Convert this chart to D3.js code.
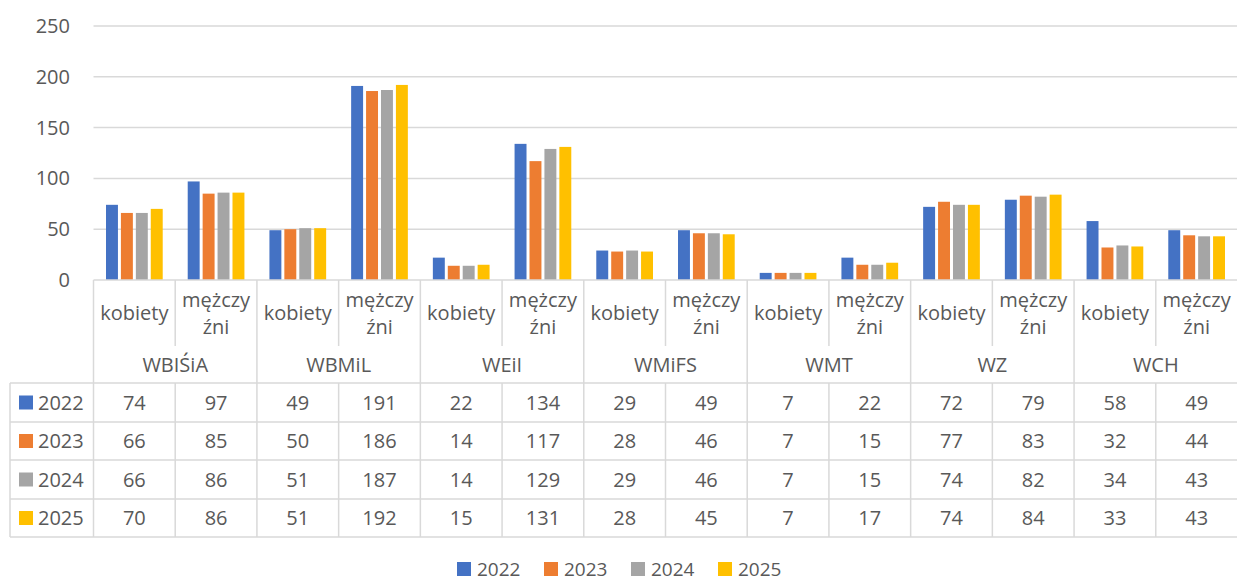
<!DOCTYPE html>
<html><head><meta charset="utf-8">
<script src="https://cdn.jsdelivr.net/npm/d3@7"></script>
<style>body{margin:0;background:#fff}svg{display:block;font-family:"Open Sans",sans-serif}</style>
</head><body>
<svg id="c" width="1237" height="581"></svg>
<script>
const groups = ["WBIŚiA","WBMiL","WEiI","WMiFS","WMT","WZ","WCH"];
const subs = ["kobiety","mężczyźni"];
const years = ["2022","2023","2024","2025"];
const v2022 = [74,97,49,191,22,134,29,49,7,22,72,79,58,49];
const v2023 = [66,85,50,186,14,117,28,46,7,15,77,83,32,44];
const v2024 = [66,86,51,187,14,129,29,46,7,15,74,82,34,43];
const v2025 = [70,86,51,192,15,131,28,45,7,17,74,84,33,43];
const yTicks = [0,50,100,150,200,250];
const colors = ["#4472C4","#ED7D31","#A5A5A5","#FFC000"];
const series = [v2022,v2023,v2024,v2025];

(function(){
const svg = d3.select("#c");
const txt = "#595959", line = "#d9d9d9", fs = 20;
const pL = 93.5, pR = 1237.5, pT = 26, pB = 280;
const cats = [];
groups.forEach(g => subs.forEach(s => cats.push(g + "|" + s)));
const x = d3.scaleBand().domain(cats).range([pL, pR]).paddingInner(0).paddingOuter(0);
const x1 = d3.scaleBand().domain(years).range([12.5, x.bandwidth() - 12.5]).paddingInner(0.2).paddingOuter(0);
const y = d3.scaleLinear().domain([0, 250]).range([pB, pT]);

// gridlines
svg.append("g").selectAll("line").data(yTicks.slice(1)).join("line")
  .attr("x1", pL).attr("x2", pR).attr("y1", d => y(d)).attr("y2", d => y(d))
  .attr("stroke", line).attr("stroke-width", 1.5);
// y axis labels
const yAxis = svg.append("g").attr("transform", "translate(70,0)")
  .call(d3.axisLeft(y).tickValues(yTicks).tickSize(0).tickPadding(0));
yAxis.select(".domain").remove();
yAxis.selectAll("text").attr("fill", txt).attr("font-size", fs).attr("font-family", "Open Sans");

// bars
years.forEach((yr, si) => {
  svg.append("g").selectAll("rect").data(series[si]).join("rect")
    .attr("x", (d, i) => x(cats[i]) + x1(yr))
    .attr("width", x1.bandwidth())
    .attr("y", d => y(d)).attr("height", d => y(0) - y(d))
    .attr("fill", colors[si]);
});

// table lines
const tl = svg.append("g").attr("stroke", line).attr("stroke-width", 1.5);
const rowTops = [383, 422, 460, 499, 537];
const tableL = 10;
rowTops.forEach(r => tl.append("line").attr("x1", tableL).attr("x2", pR).attr("y1", r).attr("y2", r));
tl.append("line").attr("x1", pL).attr("x2", pR).attr("y1", pB).attr("y2", pB);
tl.append("line").attr("x1", tableL).attr("x2", tableL).attr("y1", 383).attr("y2", 537);
cats.forEach((c, i) => {
  const xx = x(c);
  if (i % 2 === 0) {
    tl.append("line").attr("x1", xx).attr("x2", xx).attr("y1", pB).attr("y2", 537);
  } else {
    tl.append("line").attr("x1", xx).attr("x2", xx).attr("y1", pB).attr("y2", 346);
    tl.append("line").attr("x1", xx).attr("x2", xx).attr("y1", 383).attr("y2", 537);
  }
});

// sub-category labels with wrapping
const tg = svg.append("g").attr("fill", txt).attr("font-size", fs).attr("text-anchor", "middle");
function wrapChars(str, maxW) {
  const t = tg.append("text").attr("visibility", "hidden");
  const lines = []; let cur = "";
  for (const ch of str) {
    t.text(cur + ch);
    if (cur && t.node().getComputedTextLength() > maxW) { lines.push(cur); cur = ch; }
    else cur += ch;
  }
  lines.push(cur); t.remove();
  return lines;
}
cats.forEach((c, i) => {
  const lab = c.split("|")[1];
  const cx = x(c) + x.bandwidth() / 2;
  const lines = wrapChars(lab, x.bandwidth() - 8);
  const t = tg.append("text").attr("x", cx);
  const mid = 313, lh = 27;
  lines.forEach((l, k) => {
    t.append("tspan").attr("x", cx).attr("y", mid + (k - (lines.length - 1) / 2) * lh)
      .attr("dy", "0.35em").text(l);
  });
});
groups.forEach((g, gi) => {
  const x0 = x(cats[gi * 2]), w = x.bandwidth() * 2;
  tg.append("text").attr("x", x0 + w / 2).attr("y", 365).attr("dy", "0.35em").text(g);
});
// data rows
years.forEach((yr, si) => {
  const cy = (rowTops[si] + rowTops[si + 1]) / 2;
  svg.append("rect").attr("x", 19).attr("y", cy - 7).attr("width", 14).attr("height", 14).attr("fill", colors[si]);
  tg.append("text").attr("x", 38).attr("y", cy).attr("dy", "0.35em").attr("text-anchor", "start").text(yr);
  series[si].forEach((v, i) => {
    tg.append("text").attr("x", x(cats[i]) + x.bandwidth() / 2).attr("y", cy).attr("dy", "0.35em").text(v);
  });
});

// bottom legend
const lg = svg.append("g").attr("transform", "translate(457,569)");
years.forEach((yr, si) => {
  const g = lg.append("g").attr("transform", `translate(${si * 87},0)`);
  g.append("rect").attr("x", 0).attr("y", -7).attr("width", 14).attr("height", 14).attr("fill", colors[si]);
  g.append("text").attr("x", 20).attr("y", 0).attr("dy", "0.35em").attr("fill", txt).attr("font-size", 19).text(yr);
});
})();
</script>
</body></html>
